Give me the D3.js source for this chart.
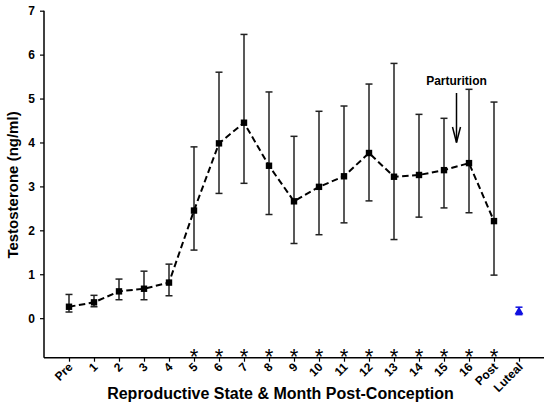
<!DOCTYPE html>
<html>
<head>
<meta charset="utf-8">
<script src="https://cdn.jsdelivr.net/npm/d3@7"></script>
<style>
  body { margin: 0; background: #fff; }
  text { font-family: "Liberation Sans", Arial, sans-serif; }
</style>
</head>
<body>
<svg id="chart" width="550" height="407"></svg>
<script>
const categories = ["Pre","1","2","3","4","5","6","7","8","9","10","11","12","13","14","15","16","Post","Luteal"];
const meanValues = [0.26,0.36,0.61,0.67,0.81,2.45,3.98,4.45,3.47,2.66,2.99,3.23,3.76,3.22,3.26,3.37,3.53,2.21];
const upperValues = [0.54,0.52,0.89,1.07,1.23,3.90,5.60,6.46,5.15,4.14,4.71,4.83,5.33,5.80,4.64,4.55,5.21,4.92];
const lowerValues = [0.14,0.26,0.42,0.42,0.51,1.55,2.84,3.07,2.36,1.70,1.90,2.17,2.67,1.79,2.30,2.51,2.40,0.98];
const lutealMean = [0.15];
const lutealUpper = [0.25];
const lutealLower = [0.08];
const significant = ["5","6","7","8","9","10","11","12","13","14","15","16","Post"];
const yTicks = [0,1,2,3,4,5,6,7];
const parturitionAt = 15.5; // index between month 15 and 16

const svg = d3.select("#chart");
const x = d3.scalePoint().domain(categories).range([44, 544]).padding(1);
const y = d3.scaleLinear().domain([-0.9, 7]).range([357.7, 10.7]);
const FONT = '"Liberation Sans", Arial, sans-serif';

// axes
const yAxis = d3.axisLeft(y).tickValues(yTicks).tickSize(4).tickPadding(5).tickFormat(d3.format("d"));
const gy = svg.append("g").attr("transform", "translate(44,0)").call(yAxis);
gy.select(".domain").attr("d", `M0,${y(7)}V${y(-0.9)}`).attr("stroke", "#000").attr("stroke-width", 1.5);
gy.selectAll(".tick line").attr("stroke", "#000").attr("stroke-width", 1.2);
gy.selectAll(".tick text").attr("font-size", 12).attr("font-weight", "bold").attr("fill", "#000")
  .style("font-family", FONT);

const xAxis = d3.axisBottom(x).tickSize(4).tickPadding(2);
const gx = svg.append("g").attr("transform", "translate(0,357.7)").call(xAxis);
gx.select(".domain").attr("d", "M44,0H544").attr("stroke", "#000").attr("stroke-width", 1.5);
gx.selectAll(".tick line").attr("stroke", "#000").attr("stroke-width", 1.2);
gx.selectAll(".tick text")
  .attr("font-size", 12).attr("font-weight", "bold").attr("fill", "#000")
  .style("font-family", FONT)
  .attr("text-anchor", "end")
  .attr("dy", null)
  .attr("y", 0)
  .attr("transform", "translate(4,10) rotate(-45)");

// data rows
const rows = meanValues.map((m, i) => ({ cat: categories[i], m, hi: upperValues[i], lo: lowerValues[i] }));

// error bars
const eb = svg.append("g").attr("stroke", "#222").attr("stroke-width", 1.5).attr("fill", "none");
rows.forEach(r => {
  const cx = x(r.cat);
  eb.append("line").attr("x1", cx).attr("x2", cx).attr("y1", y(r.hi)).attr("y2", y(r.lo));
  eb.append("line").attr("x1", cx - 3.5).attr("x2", cx + 3.5).attr("y1", y(r.hi)).attr("y2", y(r.hi));
  eb.append("line").attr("x1", cx - 3.5).attr("x2", cx + 3.5).attr("y1", y(r.lo)).attr("y2", y(r.lo));
});

// dashed line
const line = d3.line().x(d => x(d.cat)).y(d => y(d.m));
svg.append("path").datum(rows).attr("d", line)
  .attr("fill", "none").attr("stroke", "#000").attr("stroke-width", 2)
  .attr("stroke-dasharray", "6.5,3.5");

// markers
svg.append("g").selectAll("rect").data(rows).join("rect")
  .attr("x", d => x(d.cat) - 3.2).attr("y", d => y(d.m) - 3.2)
  .attr("width", 6.4).attr("height", 6.4).attr("fill", "#000");

// luteal
const lx = x("Luteal");
const lg = svg.append("g").attr("stroke", "#1010e0").attr("stroke-width", 1.5);
lg.append("line").attr("x1", lx).attr("x2", lx).attr("y1", y(lutealUpper[0])).attr("y2", y(lutealLower[0]));
lg.append("line").attr("x1", lx - 3.5).attr("x2", lx + 3.5).attr("y1", y(lutealUpper[0])).attr("y2", y(lutealUpper[0]));
lg.append("line").attr("x1", lx - 3.5).attr("x2", lx + 3.5).attr("y1", y(lutealLower[0])).attr("y2", y(lutealLower[0]));
svg.append("path").attr("d", d3.symbol(d3.symbolTriangle, 34)())
  .attr("transform", `translate(${lx},${y(lutealMean[0])})`).attr("fill", "#1010e0");

// asterisks
svg.append("g").selectAll("text").data(significant).join("text")
  .attr("x", d => x(d)).attr("y", 364)
  .attr("text-anchor", "middle").attr("font-size", 22).attr("fill", "#000")
  .text("*");

// parturition annotation
const px = x("15") + (x("16") - x("15")) * (parturitionAt - 15);
svg.append("text").attr("x", px).attr("y", 85).attr("text-anchor", "middle")
  .attr("font-size", 12).attr("font-weight", "bold").attr("fill", "#000").text("Parturition");
const ag = svg.append("g").attr("stroke", "#000").attr("stroke-width", 1.5).attr("fill", "none");
ag.append("line").attr("x1", px).attr("x2", px).attr("y1", 93).attr("y2", 142.5);
ag.append("path").attr("d", `M${px - 4},${127}L${px},${142.5}L${px + 4},${127}`);

// axis titles
svg.append("text").attr("transform", `translate(17.5,185) rotate(-90)`)
  .attr("text-anchor", "middle").attr("font-size", 15).attr("font-weight", "bold").attr("fill", "#000")
  .text("Testosterone (ng/ml)");
svg.append("text").attr("x", 280.5).attr("y", 399)
  .attr("text-anchor", "middle").attr("font-size", 16).attr("font-weight", "bold").attr("fill", "#000")
  .text("Reproductive State & Month Post-Conception");
</script>
</body>
</html>
